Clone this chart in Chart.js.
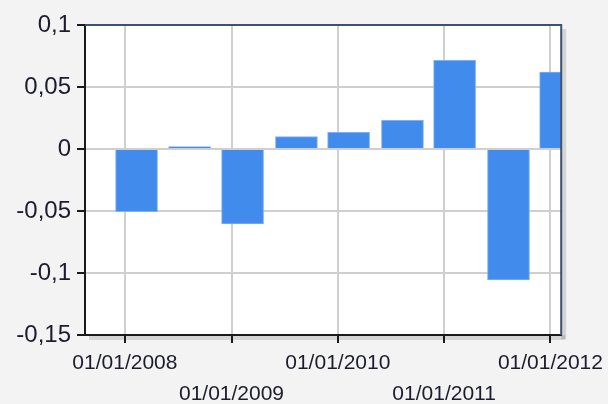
<!DOCTYPE html>
<html>
<head>
<meta charset="utf-8">
<script src="https://cdn.jsdelivr.net/npm/chart.js@4.4.0/dist/chart.umd.min.js"></script>
<style>
  html, body { margin: 0; padding: 0; background: #f3f3f3; }
  #wrap { width: 608px; height: 404px; }
</style>
</head>
<body>
<div id="wrap"><canvas id="chartRetorno"></canvas></div>
<script>
// datas das barras (semestrais) e retornos
var datas = ['2008-02-10', '2008-08-10', '2009-02-08', '2009-08-12', '2010-02-07',
             '2010-08-11', '2011-02-06', '2011-08-10', '2012-02-05'];
var retornos = [-0.0505, 0.002, -0.0605, 0.0101, 0.0135, 0.0231, 0.0715, -0.1055, 0.062];
var anos = [2008, 2009, 2010, 2011, 2012];
var limiteX = ['2007-08-17', '2012-02-07'];
var limiteY = [-0.15, 0.1];
var passoY = 0.05;

var pontos = datas.map(function (d, i) {
  return { x: Date.parse(d), y: retornos[i] };
});

var corTexto = '#1c1c2c';

// fundo branco da area do grafico + moldura com sombra
var moldura = {
  id: 'moldura',
  beforeDraw: function (chart) {
    var a = chart.chartArea, ctx = chart.ctx;
    ctx.save();
    ctx.fillStyle = 'rgba(0,0,0,0.12)';
    ctx.fillRect(a.right, a.top + 4, 5, a.bottom - a.top);
    ctx.fillRect(a.left + 4, a.bottom, a.right - a.left, 5);
    ctx.fillStyle = '#ffffff';
    ctx.fillRect(a.left, a.top, a.right - a.left, a.bottom - a.top);
    ctx.restore();
  },
  afterDraw: function (chart) {
    var a = chart.chartArea, ctx = chart.ctx;
    ctx.save();
    ctx.strokeStyle = '#3d5273';
    ctx.lineWidth = 2;
    ctx.beginPath();
    ctx.moveTo(a.left, a.top);
    ctx.lineTo(a.right, a.top);
    ctx.lineTo(a.right, a.bottom);
    ctx.stroke();
    ctx.restore();
  }
};

var ctx = document.getElementById('chartRetorno').getContext('2d');
var chart = new Chart(ctx, {
  type: 'bar',
  data: {
    datasets: [
      {
        label: 'Retorno',
        data: pontos,
        backgroundColor: '#418bec',
        borderColor: '#7fb0f3',
        borderWidth: 1,
        barThickness: 42
      }
    ]
  },
  options: {
    responsive: true,
    maintainAspectRatio: false,
    animation: false,
    layout: { padding: { top: 25, right: 45, left: 0, bottom: 0 } },
    plugins: {
      legend: { display: false },
      tooltip: { enabled: false }
    },
    scales: {
      x: {
        type: 'linear',
        offset: false,
        min: Date.parse(limiteX[0]),
        max: Date.parse(limiteX[1]),
        afterBuildTicks: function (scale) {
          scale.ticks = anos.map(function (a) { return { value: Date.UTC(a, 0, 1) }; });
        },
        afterFit: function (scale) { scale.height = 69; },
        grid: {
          offset: false,
          color: '#cfcfcf',
          lineWidth: 2,
          tickLength: 8,
          tickColor: '#1a1a1a',
          tickWidth: 2
        },
        border: { color: '#1a1a1a', width: 2 },
        ticks: {
          autoSkip: false,
          maxRotation: 0,
          padding: 4,
          color: corTexto,
          font: { family: 'Liberation Sans', size: 21, lineHeight: 1.5 },
          callback: function (value, index) {
            var ano = new Date(value).getUTCFullYear();
            var txt = '01/01/' + ano;
            return index % 2 === 1 ? ['', txt] : txt;
          }
        }
      },
      y: {
        min: limiteY[0],
        max: limiteY[1],
        afterFit: function (scale) { scale.width = 85; },
        grid: {
          color: '#cfcfcf',
          lineWidth: 2,
          tickLength: 8,
          tickColor: '#1a1a1a',
          tickWidth: 2
        },
        border: { color: '#1a1a1a', width: 2 },
        ticks: {
          stepSize: passoY,
          padding: 6,
          color: corTexto,
          font: { family: 'Liberation Sans', size: 24 },
          callback: function (value) {
            var v = Math.round(value * 100) / 100;
            return String(v).replace('.', ',');
          }
        }
      }
    }
  },
  plugins: [moldura]
});
</script>
</body>
</html>
